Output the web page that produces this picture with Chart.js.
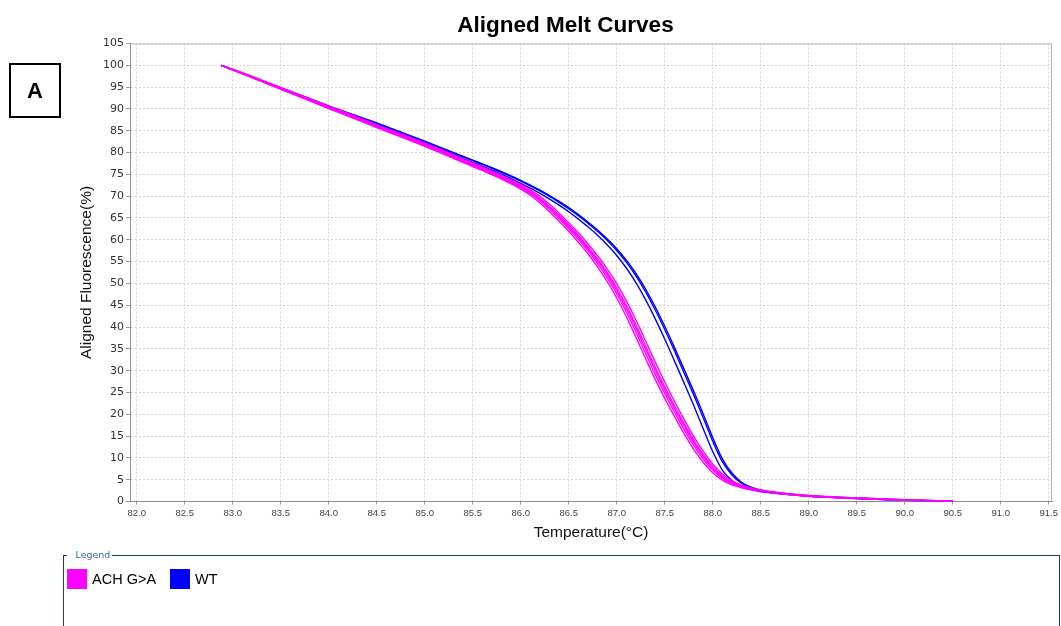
<!DOCTYPE html>
<html>
<head>
<meta charset="utf-8">
<script src="https://cdn.jsdelivr.net/npm/chart.js@4.4.1/dist/chart.umd.min.js"></script>
<style>
  html, body { margin: 0; padding: 0; background: #fff; }
  body { width: 1061px; height: 626px; overflow: hidden; position: relative; font-family: "Liberation Sans", Arial, sans-serif; }
  #chart { position: absolute; left: 0; top: 0; }
  #panel {
    position: absolute; left: 9px; top: 63px; width: 48px; height: 51px;
    border: 2px solid #000; display: flex; align-items: center; justify-content: center;
    font: bold 22px "Liberation Sans", Arial, sans-serif; color: #000;
  }
  #legendBox {
    position: absolute; left: 62.5px; top: 549px; width: 997px; height: 140px;
    margin: 0; padding: 0; box-sizing: border-box;
    border: 1.5px solid #1f3d5e;
  }
  #legendBox legend {
    margin-left: 3px; padding: 0 2px 0 9px;
    font: 9.5px "DejaVu Sans", sans-serif; line-height: 12px; color: #3b6aa0;
  }
  #legendItems { position: absolute; left: 67px; top: 569px; display: flex; align-items: center; }
  .item { display: flex; align-items: center; margin-right: 14px; }
  .swatch { width: 20px; height: 20px; margin-right: 5px; }
  .item span { font: 14.5px "Liberation Sans", Arial, sans-serif; color: #000; }
</style>
</head>
<body>
<canvas id="chart" width="1061" height="626"></canvas>
<div id="panel">A</div>
<fieldset id="legendBox"><legend>Legend</legend></fieldset>
<div id="legendItems"></div>
<script>
// Temperature grid (°C) shared by every melt run
const temps = [82.88, 83.0, 83.5, 84.0, 84.5, 85.0,
  85.5, 85.6, 85.7, 85.8, 85.9, 86.0, 86.1, 86.2, 86.3, 86.4, 86.5, 86.6, 86.7, 86.8, 86.9,
  87.0, 87.1, 87.2, 87.3, 87.4, 87.5, 87.6, 87.7, 87.8, 87.9, 88.0, 88.1, 88.2, 88.3, 88.4, 88.5,
  88.7, 89.0, 89.5, 90.0, 90.5];

// Aligned fluorescence (%) – ACH G>A replicates
const achRun1 = [100, 98.9, 94.5, 90.1, 85.7, 81.4,
  76.8, 75.9, 74.9, 73.9, 72.8, 71.6, 70.2, 68.45, 66.45, 64.25, 61.95, 59.45, 56.8, 53.8, 50.45,
  46.65, 42.35, 37.65, 32.8, 28.05, 23.65, 19.55, 15.6, 12.0, 9.0, 6.6, 4.9, 3.8, 3.15, 2.7, 2.35,
  1.8, 1.2, 0.7, 0.3, 0.0];
const achRun2 = [100, 99.0, 94.6, 90.3, 85.9, 81.6,
  77.0, 76.1, 75.15, 74.15, 73.1, 71.9, 70.55, 68.9, 66.95, 64.8, 62.55, 60.1, 57.45, 54.55, 51.3,
  47.65, 43.45, 38.8, 34.0, 29.2, 24.75, 20.55, 16.55, 12.9, 9.75, 7.2, 5.3, 4.1, 3.3, 2.8, 2.45,
  1.85, 1.25, 0.72, 0.33, 0.03];
const achRun3 = [100, 99.0, 94.7, 90.4, 86.1, 81.8,
  77.2, 76.3, 75.35, 74.35, 73.3, 72.15, 70.85, 69.25, 67.35, 65.25, 63.0, 60.6, 58.0, 55.15, 52.0,
  48.4, 44.3, 39.75, 34.95, 30.15, 25.65, 21.4, 17.35, 13.6, 10.35, 7.65, 5.65, 4.3, 3.45, 2.9, 2.5,
  1.9, 1.3, 0.75, 0.35, 0.05];
const achRun4 = [100, 99.0, 94.8, 90.5, 86.2, 81.9,
  77.35, 76.45, 75.5, 74.5, 73.45, 72.35, 71.05, 69.5, 67.65, 65.6, 63.35, 61.0, 58.4, 55.6, 52.5,
  49.0, 44.95, 40.45, 35.65, 30.85, 26.3, 22.0, 17.95, 14.15, 10.8, 8.0, 5.9, 4.45, 3.55, 2.95, 2.55,
  1.95, 1.32, 0.77, 0.37, 0.06];
const achRun5 = [100, 99.1, 94.9, 90.7, 86.4, 82.2,
  77.6, 76.7, 75.75, 74.75, 73.75, 72.65, 71.45, 69.95, 68.15, 66.1, 63.9, 61.6, 59.1, 56.35, 53.35,
  49.95, 46.0, 41.6, 36.85, 32.0, 27.4, 23.05, 18.9, 15.0, 11.55, 8.6, 6.3, 4.75, 3.75, 3.1, 2.65,
  2.0, 1.38, 0.8, 0.4, 0.08];

// Aligned fluorescence (%) – WT replicates
const wtRun1 = [100, 99.0, 94.8, 90.6, 86.6, 82.4,
  78.13, 77.28, 76.4, 75.47, 74.5, 73.46, 72.36, 71.2, 69.95, 68.59, 67.13, 65.52, 63.81, 61.94, 59.88,
  57.55, 54.87, 51.73, 48.09, 43.96, 39.43, 34.61, 29.6, 24.54, 19.27, 13.84, 9.12, 6.08, 4.18, 3.13, 2.51,
  1.85, 1.25, 0.7, 0.3, 0.0];
const wtRun2 = [100, 99.0, 94.9, 90.7, 86.8, 82.6,
  78.27, 77.42, 76.54, 75.63, 74.66, 73.64, 72.54, 71.4, 70.15, 68.81, 67.37, 65.78, 64.09, 62.26, 60.22,
  57.95, 55.33, 52.27, 48.71, 44.64, 40.17, 35.39, 30.4, 25.36, 20.13, 14.66, 9.78, 6.52, 4.42, 3.27, 2.59,
  1.95, 1.35, 0.8, 0.4, 0.1];
const wtRun3 = [100, 99.0, 94.7, 90.5, 86.4, 82.2,
  77.73, 76.87, 75.97, 75.03, 74.03, 72.96, 71.83, 70.64, 69.33, 67.93, 66.43, 64.74, 62.97, 61.03, 58.87,
  56.4, 53.53, 50.16, 46.28, 41.93, 37.24, 32.3, 27.25, 22.12, 16.76, 11.45, 7.2, 4.81, 3.45, 2.73, 2.27,
  1.75, 1.2, 0.7, 0.3, 0.0];

const seriesNames = ['ACH G>A', 'WT'];
const seriesColors = ['#ff00ff', '#0000ff'];
const seriesRuns = [[achRun1, achRun2, achRun3, achRun4, achRun5], [wtRun1, wtRun2, wtRun3]];

// Axis tick positions
const xTicks = [82.0, 82.5, 83.0, 83.5, 84.0, 84.5, 85.0, 85.5, 86.0, 86.5, 87.0, 87.5, 88.0, 88.5, 89.0, 89.5, 90.0, 90.5, 91.0, 91.5];
const yTicks = [0, 5, 10, 15, 20, 25, 30, 35, 40, 45, 50, 55, 60, 65, 70, 75, 80, 85, 90, 95, 100, 105];

// One line per replicate; the first group is listed first so it is painted on top
const datasets = [];
seriesRuns.forEach((runs, s) => {
  runs.forEach((vals, r) => {
    datasets.push({
      label: seriesNames[s] + ' ' + (r + 1),
      data: temps.map((t, i) => ({ x: t, y: vals[i] })),
      borderColor: seriesColors[s],
      borderWidth: 1.4,
      pointRadius: 0,
      fill: false,
      cubicInterpolationMode: 'monotone'
    });
  });
});

// Light frame on the top and right side of the plot area
const plotFrame = {
  id: 'plotFrame',
  beforeDatasetsDraw(chart) {
    const { ctx, chartArea: a } = chart;
    ctx.save();
    ctx.strokeStyle = '#b4b4b4';
    ctx.lineWidth = 1;
    ctx.beginPath();
    ctx.moveTo(a.left, a.top + 0.5);
    ctx.lineTo(a.right - 0.5, a.top + 0.5);
    ctx.lineTo(a.right - 0.5, a.bottom);
    ctx.stroke();
    ctx.restore();
  }
};

const axisTitleFont = { family: '"Liberation Sans", Arial, sans-serif', size: 15.5 };

new Chart(document.getElementById('chart'), {
  type: 'line',
  data: { datasets },
  plugins: [plotFrame],
  options: {
    responsive: false,
    animation: false,
    events: [],
    layout: { autoPadding: false, padding: { left: 77, right: 7, top: 0, bottom: 83.7 } },
    plugins: {
      legend: { display: false },
      tooltip: { enabled: false },
      title: {
        display: true,
        text: 'Aligned Melt Curves',
        color: '#000',
        font: { family: '"Liberation Sans", Arial, sans-serif', size: 22.5, weight: 'bold' },
        padding: { top: 12, bottom: 4.5 }
      }
    },
    scales: {
      x: {
        type: 'linear',
        min: 81.93,
        max: 91.535,
        afterBuildTicks: s => { s.ticks = xTicks.map(v => ({ value: v })); },
        afterFit: s => { s.height = 40.8; },
        ticks: {
          autoSkip: false, maxRotation: 0, padding: 3, color: '#444',
          font: { family: '"Liberation Sans", Arial, sans-serif', size: 9.5 },
          callback: v => Number(v).toFixed(1)
        },
        grid: { color: '#d4d4d4', lineWidth: 1, tickLength: 3, tickColor: '#999', tickBorderDash: [] },
        border: { color: '#8c8c8c', width: 1, dash: [2, 2] },
        title: { display: true, text: 'Temperature(°C)', color: '#111', font: axisTitleFont, padding: { top: 0, bottom: 0 } }
      },
      y: {
        min: 0,
        max: 105,
        afterBuildTicks: s => { s.ticks = yTicks.map(v => ({ value: v })); },
        afterFit: s => { s.width = 53; },
        ticks: {
          autoSkip: false, padding: 2, color: '#333',
          font: { family: '"DejaVu Sans", sans-serif', size: 11 }
        },
        grid: { color: '#d4d4d4', lineWidth: 1, tickLength: 4, tickColor: '#999', tickBorderDash: [] },
        border: { color: '#8c8c8c', width: 1, dash: [2, 2] },
        title: { display: true, text: 'Aligned Fluorescence(%)', color: '#111', font: axisTitleFont, padding: { top: 0, bottom: 0 } }
      }
    }
  }
});

// HTML legend built from the series names and colours
const legendItems = document.getElementById('legendItems');
seriesNames.forEach((name, i) => {
  const item = document.createElement('div');
  item.className = 'item';
  const sw = document.createElement('div');
  sw.className = 'swatch';
  sw.style.background = seriesColors[i];
  const txt = document.createElement('span');
  txt.textContent = name;
  item.appendChild(sw);
  item.appendChild(txt);
  legendItems.appendChild(item);
});
</script>
</body>
</html>
